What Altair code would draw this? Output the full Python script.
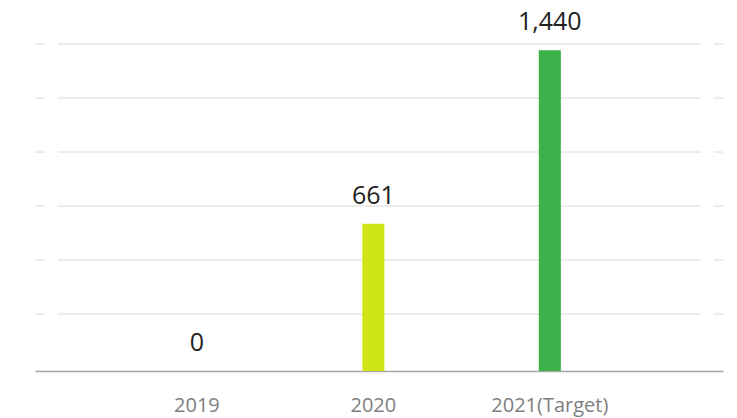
import altair as alt
import pandas as pd

# ---- data ----
years = ["2019", "2020", "2021(Target)"]
values = [0, 661, 1440]
labels = ["0", "661", "1,440"]
colors = ["#9e9e9e", "#cfe514", "#3cb14a"]

# ---- layout / style constants ----
Y_MAX = 1468
PLOT_W, PLOT_H = 688, 327
GRID_STEP_PX = 54
N_GRID = 6
grid_vals = [Y_MAX * (1 - k * GRID_STEP_PX / PLOT_H) for k in range(N_GRID)]

df = pd.DataFrame({"year": years, "value": values, "label": labels})
grid = pd.DataFrame({"v": grid_vals})

yscale = alt.Scale(domain=[0, Y_MAX], nice=False, zero=True)
xscale = alt.Scale(domain=years, paddingInner=0.875, paddingOuter=0.887, align=0.482)

FONT = "Open Sans"

grid_lines = alt.Chart(grid).mark_rule(color="#dadada", strokeWidth=1).encode(
    y=alt.Y("v:Q", scale=yscale, axis=None),
    x=alt.value(23), x2=alt.value(666),
)
left_ticks = alt.Chart(grid).mark_rule(color="#dadada", strokeWidth=1).encode(
    y=alt.Y("v:Q", scale=yscale, axis=None),
    x=alt.value(0), x2=alt.value(10),
)
right_ticks = alt.Chart(grid).mark_rule(color="#dadada", strokeWidth=1).encode(
    y=alt.Y("v:Q", scale=yscale, axis=None),
    x=alt.value(679), x2=alt.value(688),
)

bars = alt.Chart(df).mark_bar().encode(
    x=alt.X("year:N", scale=xscale, sort=years, title=None,
            axis=alt.Axis(labelAngle=0, ticks=False, tickSize=0, grid=False,
                          domainColor="#a8a8a8", domainWidth=1.5,
                          labelFont=FONT, labelFontSize=20, labelColor="#7f7f7f",
                          labelBaseline="alphabetic", labelPadding=40)),
    y=alt.Y("value:Q", scale=yscale, axis=None),
    color=alt.Color("year:N", scale=alt.Scale(domain=years, range=colors), legend=None),
)

texts = alt.Chart(df).mark_text(
    baseline="alphabetic", dy=-20, fontSize=25, font=FONT, color="#222222"
).encode(
    x=alt.X("year:N", scale=xscale, sort=years),
    y=alt.Y("value:Q", scale=yscale, axis=None),
    text="label:N",
)

chart = alt.layer(grid_lines, left_ticks, right_ticks, bars, texts).properties(
    width=PLOT_W, height=PLOT_H,
    autosize=alt.AutoSizeParams(type="none"),
    padding={"left": 27, "top": 36, "right": 6, "bottom": 48},
    background="white",
).configure_view(stroke=None, strokeWidth=0)

chart.save("out.html", embed_options={"renderer": "svg", "actions": False})
